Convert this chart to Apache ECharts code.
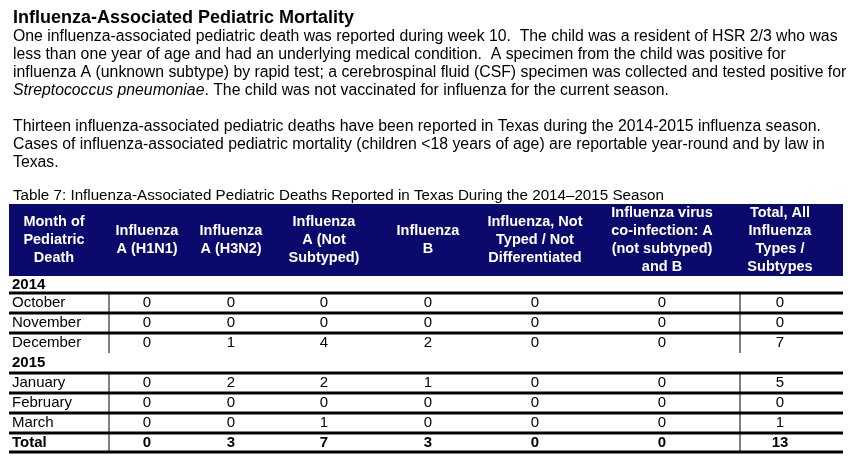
<!DOCTYPE html>
<html><head><meta charset="utf-8">
<script src="https://cdn.jsdelivr.net/npm/echarts@6/dist/echarts.min.js"></script>
<style>html,body{margin:0;padding:0;background:#fff}#c{width:851px;height:471px}</style>
</head><body><div id="c"></div>
<script>
// table data
var headers = ['Month of\nPediatric\nDeath', 'Influenza\nA (H1N1)', 'Influenza\nA (H3N2)', 'Influenza\nA (Not\nSubtyped)', 'Influenza\nB', 'Influenza, Not\nTyped / Not\nDifferentiated', 'Influenza virus\nco-infection: A\n(not subtyped)\nand B', 'Total, All\nInfluenza\nTypes /\nSubtypes'];
var months2014 = ['October', 'November', 'December'];
var values2014 = [[0,0,0,0,0,0,0],[0,0,0,0,0,0,0],[0,1,4,2,0,0,7]];
var months2015 = ['January', 'February', 'March'];
var values2015 = [[0,2,2,1,0,0,5],[0,0,0,0,0,0,0],[0,0,1,0,0,0,1]];
var totals = [0,3,7,3,0,0,13];

var chart = echarts.init(document.getElementById('c'));
var F = 'Liberation Sans, Arial, sans-serif';
var g = [];
function txt(x, y, s, o) {
  o = o || {};
  g.push({type:'text', x:x, y:y, style:{text:s, font:(o.bold?'bold ':'')+(o.size||15)+'px '+F,
    fill:o.fill||'#000', align:o.align||'left', verticalAlign:o.va||'middle', lineHeight:o.lh||16, rich:o.rich}});
}
function line(x1,y1,x2,y2,w){ g.push({type:'line', shape:{x1:x1,y1:y1,x2:x2,y2:y2}, style:{stroke:'#000', lineWidth:w}}); }

txt(13, 18, 'Influenza-Associated Pediatric Mortality', {bold:true, size:18});
var para = ['One influenza-associated pediatric death was reported during week 10.  The child was a resident of HSR 2/3 who was',
  'less than one year of age and had an underlying medical condition.  A specimen from the child was positive for',
  'influenza A (unknown subtype) by rapid test; a cerebrospinal fluid (CSF) specimen was collected and tested positive for',
  '{i|Streptococcus pneumoniae}. The child was not vaccinated for influenza for the current season.'];
para.forEach(function(s,i){ txt(13, 37+i*18, s, {size:15.8, rich:{i:{fontStyle:'italic', fontSize:15.8, fontFamily:F}}}); });
var para2 = ['Thirteen influenza-associated pediatric deaths have been reported in Texas during the 2014-2015 influenza season.',
  'Cases of influenza-associated pediatric mortality (children <18 years of age) are reportable year-round and by law in',
  'Texas.'];
para2.forEach(function(s,i){ txt(13, 127+i*18, s, {size:15.8}); });
txt(13, 196, 'Table 7: Influenza-Associated Pediatric Deaths Reported in Texas During the 2014\u20132015 Season', {size:15.2});

var L = 9, R = 843;
var cx = [54, 147, 231, 324, 428, 535, 662, 780];
g.push({type:'rect', shape:{x:L, y:204, width:R-L, height:72}, style:{fill:'#0a0a6c'}});
headers.forEach(function(h,i){ txt(cx[i], 240, h, {bold:true, fill:'#fff', align:'center', size:14.5, lh:18}); });

var y = 276;
function sectionRow(label, h){ txt(12, y+h/2, label, {bold:true}); y += h; }
function dataRow(name, vals, bold){
  line(L, y, R, y, 3);
  txt(12, y+10, name, {bold:bold});
  vals.forEach(function(v,j){ txt(cx[j+1], y+10, String(v), {bold:bold, align:'center'}); });
  y += 20;
}
sectionRow('2014', 17);
var top1 = y;
months2014.forEach(function(m,i){ dataRow(m, values2014[i]); });
var bot1 = y;
sectionRow('2015', 20);
var top2 = y;
months2015.forEach(function(m,i){ dataRow(m, values2015[i]); });
dataRow('Total', totals, true);
y -= 1;
line(L, y, R, y, 3);
[109, 740].forEach(function(x){ line(x, top1, x, bot1, 1); line(x, top2, x, y, 1); });

chart.setOption({animation:false, graphic:g});
</script></body></html>
